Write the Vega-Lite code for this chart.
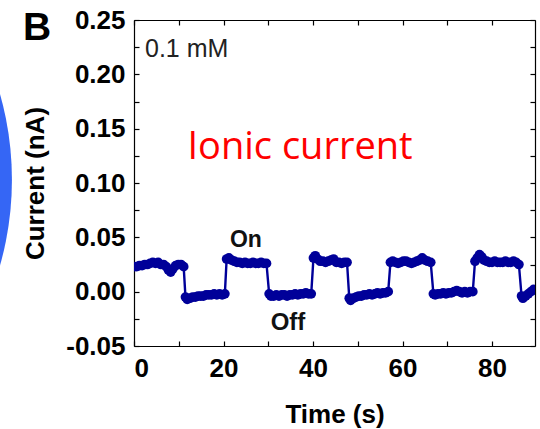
{
  "$schema": "https://vega.github.io/schema/vega-lite/v6.json",
  "width": 401,
  "height": 326,
  "autosize": {"type": "none"},
  "padding": {"left": 134, "top": 20, "right": 5, "bottom": 83},
  "background": "white",
  "config": {"view": {"stroke": null}, "font": "Liberation Sans"},
  "datasets": {
    "current": [
      {"t": 0.0, "i": 0.023}, {"t": 0.6, "i": 0.023}, {"t": 1.2, "i": 0.024}, {"t": 1.8, "i": 0.024}, {"t": 2.4, "i": 0.025}, {"t": 3.0, "i": 0.025}, {"t": 3.6, "i": 0.026}, {"t": 4.2, "i": 0.027}, {"t": 4.8, "i": 0.026}, {"t": 5.4, "i": 0.027}, {"t": 6.0, "i": 0.025}, {"t": 6.6, "i": 0.025}, {"t": 7.2, "i": 0.023}, {"t": 7.7, "i": 0.020}, {"t": 8.2, "i": 0.018}, {"t": 8.7, "i": 0.021}, {"t": 9.3, "i": 0.024}, {"t": 9.9, "i": 0.025}, {"t": 10.5, "i": 0.025}, {"t": 11.1, "i": 0.023},
      {"t": 11.5, "i": -0.005}, {"t": 11.9, "i": -0.007}, {"t": 12.5, "i": -0.006}, {"t": 13.1, "i": -0.005}, {"t": 13.7, "i": -0.005}, {"t": 14.3, "i": -0.004}, {"t": 14.9, "i": -0.004}, {"t": 15.5, "i": -0.004}, {"t": 16.1, "i": -0.003}, {"t": 16.7, "i": -0.003}, {"t": 17.3, "i": -0.003}, {"t": 17.9, "i": -0.002}, {"t": 18.5, "i": -0.003}, {"t": 19.1, "i": -0.002}, {"t": 19.7, "i": -0.003}, {"t": 20.3, "i": -0.002},
      {"t": 20.7, "i": 0.030}, {"t": 21.2, "i": 0.031}, {"t": 21.8, "i": 0.029}, {"t": 22.4, "i": 0.028}, {"t": 23.0, "i": 0.027}, {"t": 23.6, "i": 0.027}, {"t": 24.2, "i": 0.026}, {"t": 24.8, "i": 0.027}, {"t": 25.4, "i": 0.026}, {"t": 26.0, "i": 0.026}, {"t": 26.6, "i": 0.027}, {"t": 27.2, "i": 0.026}, {"t": 27.8, "i": 0.026}, {"t": 28.4, "i": 0.027}, {"t": 29.0, "i": 0.026}, {"t": 29.6, "i": 0.026},
      {"t": 30.2, "i": -0.002}, {"t": 30.6, "i": -0.004}, {"t": 31.2, "i": -0.004}, {"t": 31.8, "i": -0.003}, {"t": 32.4, "i": -0.004}, {"t": 33.0, "i": -0.003}, {"t": 33.6, "i": -0.003}, {"t": 34.2, "i": -0.004}, {"t": 34.8, "i": -0.003}, {"t": 35.4, "i": -0.003}, {"t": 36.0, "i": -0.002}, {"t": 36.6, "i": -0.003}, {"t": 37.2, "i": -0.002}, {"t": 37.8, "i": -0.002}, {"t": 38.4, "i": -0.001}, {"t": 39.0, "i": -0.002}, {"t": 39.6, "i": -0.002},
      {"t": 40.1, "i": 0.031}, {"t": 40.5, "i": 0.033}, {"t": 41.0, "i": 0.030}, {"t": 41.6, "i": 0.028}, {"t": 42.2, "i": 0.028}, {"t": 42.8, "i": 0.027}, {"t": 43.4, "i": 0.028}, {"t": 44.0, "i": 0.029}, {"t": 44.6, "i": 0.030}, {"t": 45.2, "i": 0.027}, {"t": 45.8, "i": 0.027}, {"t": 46.4, "i": 0.026}, {"t": 47.0, "i": 0.027}, {"t": 47.6, "i": 0.027},
      {"t": 48.1, "i": -0.006}, {"t": 48.4, "i": -0.008}, {"t": 49.0, "i": -0.006}, {"t": 49.6, "i": -0.005}, {"t": 50.2, "i": -0.004}, {"t": 50.8, "i": -0.004}, {"t": 51.4, "i": -0.003}, {"t": 52.0, "i": -0.003}, {"t": 52.6, "i": -0.002}, {"t": 53.2, "i": -0.003}, {"t": 53.8, "i": -0.002}, {"t": 54.4, "i": -0.001}, {"t": 55.0, "i": -0.002}, {"t": 55.6, "i": -0.001}, {"t": 56.2, "i": -0.001}, {"t": 56.8, "i": 0.000},
      {"t": 57.3, "i": 0.027}, {"t": 57.8, "i": 0.028}, {"t": 58.4, "i": 0.027}, {"t": 59.0, "i": 0.026}, {"t": 59.6, "i": 0.027}, {"t": 60.2, "i": 0.028}, {"t": 60.8, "i": 0.028}, {"t": 61.4, "i": 0.027}, {"t": 62.0, "i": 0.026}, {"t": 62.6, "i": 0.027}, {"t": 63.2, "i": 0.028}, {"t": 63.8, "i": 0.029}, {"t": 64.4, "i": 0.031}, {"t": 65.0, "i": 0.029}, {"t": 65.6, "i": 0.028}, {"t": 66.3, "i": 0.027},
      {"t": 66.9, "i": -0.002}, {"t": 67.3, "i": -0.003}, {"t": 67.9, "i": -0.002}, {"t": 68.5, "i": -0.002}, {"t": 69.1, "i": -0.001}, {"t": 69.7, "i": -0.002}, {"t": 70.3, "i": -0.001}, {"t": 70.9, "i": -0.001}, {"t": 71.5, "i": 0.000}, {"t": 72.1, "i": 0.001}, {"t": 72.7, "i": 0.000}, {"t": 73.3, "i": -0.001}, {"t": 73.9, "i": 0.000}, {"t": 74.5, "i": -0.001}, {"t": 75.1, "i": 0.000}, {"t": 75.7, "i": 0.000},
      {"t": 76.2, "i": 0.028}, {"t": 76.7, "i": 0.031}, {"t": 77.2, "i": 0.034}, {"t": 77.7, "i": 0.032}, {"t": 78.2, "i": 0.029}, {"t": 78.8, "i": 0.028}, {"t": 79.4, "i": 0.027}, {"t": 80.0, "i": 0.027}, {"t": 80.6, "i": 0.028}, {"t": 81.2, "i": 0.027}, {"t": 81.8, "i": 0.027}, {"t": 82.4, "i": 0.027}, {"t": 83.0, "i": 0.028}, {"t": 83.6, "i": 0.027}, {"t": 84.2, "i": 0.027}, {"t": 84.8, "i": 0.028}, {"t": 85.4, "i": 0.027}, {"t": 86.0, "i": 0.025},
      {"t": 86.6, "i": -0.004}, {"t": 86.9, "i": -0.006}, {"t": 87.5, "i": -0.004}, {"t": 88.1, "i": -0.002}, {"t": 88.7, "i": 0.000}, {"t": 89.3, "i": 0.002}
    ]
  },
  "resolve": {"axis": {"x": "independent", "y": "independent"}},
  "layer": [
    {
      "data": {"values": [{"t": -97.4, "i": 0.103}]},
      "mark": {"type": "point", "filled": true, "color": "#3566f5", "opacity": 1, "size": 394000, "clip": false},
      "encoding": {
        "x": {"field": "t", "type": "quantitative", "axis": null},
        "y": {"field": "i", "type": "quantitative", "axis": null}
      }
    },
    {
      "data": {"name": "current"},
      "mark": {"type": "line", "color": "#000099", "strokeWidth": 2.4, "clip": true},
      "encoding": {
        "x": {"field": "t", "type": "quantitative", "scale": {"domain": [0, 89.6], "nice": false, "zero": false},
          "axis": {"orient": "bottom", "title": "Time (s)", "values": [0, 10, 20, 30, 40, 50, 60, 70, 80],
            "labelExpr": "datum.value % 20 == 0 ? format(datum.value, 'd') : ''",
            "grid": false, "domainColor": "black", "domainWidth": 1.2, "tickColor": "black", "tickWidth": 1.2, "tickSize": -5,
            "labelPadding": 14, "labelFont": "Liberation Sans", "labelFontSize": 26, "labelFontWeight": "bold", "labelColor": "black",
            "titleFont": "Liberation Sans", "titleFontSize": 26, "titleFontWeight": "bold", "titleColor": "black",
            "titleBaseline": "alphabetic", "titleY": 76, "titleX": 200.5, "titleAlign": "center"}},
        "y": {"field": "i", "type": "quantitative", "scale": {"domain": [-0.05, 0.25], "nice": false, "zero": false},
          "axis": {"orient": "left", "title": "Current (nA)", "values": [-0.05, -0.025, 0, 0.025, 0.05, 0.075, 0.1, 0.125, 0.15, 0.175, 0.2, 0.225, 0.25],
            "labelExpr": "abs(round(datum.value * 1000)) % 50 == 0 ? ((datum.value < 0 ? '-' : '') + format(abs(datum.value), '.2f')) : ''",
            "grid": false, "domainColor": "black", "domainWidth": 1.2, "tickColor": "black", "tickWidth": 1.2, "tickSize": -5,
            "labelPadding": 14, "labelFont": "Liberation Sans", "labelFontSize": 26, "labelFontWeight": "bold", "labelColor": "black",
            "titleFont": "Liberation Sans", "titleFontSize": 26, "titleFontWeight": "bold", "titleColor": "black",
            "titleAngle": -90, "titleBaseline": "alphabetic", "titleX": -91, "titleY": 163, "titleAlign": "center"}}
      }
    },
    {
      "data": {"name": "current"},
      "mark": {"type": "point", "filled": true, "color": "#000099", "opacity": 1, "size": 95, "clip": true},
      "encoding": {
        "x": {"field": "t", "type": "quantitative",
          "axis": {"orient": "top", "title": null, "labels": false, "values": [0, 10, 20, 30, 40, 50, 60, 70, 80],
            "grid": false, "domainColor": "black", "domainWidth": 1.2, "tickColor": "black", "tickWidth": 1.2, "tickSize": -5}},
        "y": {"field": "i", "type": "quantitative",
          "axis": {"orient": "right", "title": null, "labels": false, "values": [-0.05, -0.025, 0, 0.025, 0.05, 0.075, 0.1, 0.125, 0.15, 0.175, 0.2, 0.225, 0.25],
            "grid": false, "domainColor": "black", "domainWidth": 1.2, "tickColor": "black", "tickWidth": 1.2, "tickSize": -5}}
      }
    },
    {
      "mark": {"type": "rule", "color": "#222222", "strokeWidth": 1.5, "strokeDash": [8, 5]},
      "encoding": {"y": {"datum": 0, "type": "quantitative", "axis": null}}
    },
    {
      "data": {"values": [{"t": -24.8, "i": 0.2319, "label": "B"}]},
      "mark": {"type": "text", "align": "left", "baseline": "alphabetic", "font": "Liberation Sans", "fontSize": 39, "fontWeight": "bold", "color": "black", "clip": false},
      "encoding": {"x": {"field": "t", "type": "quantitative", "axis": null}, "y": {"field": "i", "type": "quantitative", "axis": null}, "text": {"field": "label"}}
    },
    {
      "data": {"values": [{"t": 2.46, "i": 0.2163, "label": "0.1 mM"}]},
      "mark": {"type": "text", "align": "left", "baseline": "alphabetic", "font": "Liberation Sans", "fontSize": 25, "color": "#222222"},
      "encoding": {"x": {"field": "t", "type": "quantitative", "axis": null}, "y": {"field": "i", "type": "quantitative", "axis": null}, "text": {"field": "label"}}
    },
    {
      "data": {"values": [{"t": 37.1, "i": 0.1224, "label": "Ionic current"}]},
      "mark": {"type": "text", "align": "center", "baseline": "alphabetic", "font": "Open Sans", "fontSize": 38, "color": "#ff0000"},
      "encoding": {"x": {"field": "t", "type": "quantitative", "axis": null}, "y": {"field": "i", "type": "quantitative", "axis": null}, "text": {"field": "label"}}
    },
    {
      "data": {"values": [{"t": 25.0, "i": 0.0414, "label": "On"}]},
      "mark": {"type": "text", "align": "center", "baseline": "alphabetic", "font": "Liberation Sans", "fontSize": 23, "fontWeight": "bold", "color": "#111111"},
      "encoding": {"x": {"field": "t", "type": "quantitative", "axis": null}, "y": {"field": "i", "type": "quantitative", "axis": null}, "text": {"field": "label"}}
    },
    {
      "data": {"values": [{"t": 34.4, "i": -0.035, "label": "Off"}]},
      "mark": {"type": "text", "align": "center", "baseline": "alphabetic", "font": "Liberation Sans", "fontSize": 24, "fontWeight": "bold", "color": "#111111"},
      "encoding": {"x": {"field": "t", "type": "quantitative", "axis": null}, "y": {"field": "i", "type": "quantitative", "axis": null}, "text": {"field": "label"}}
    }
  ]
}
